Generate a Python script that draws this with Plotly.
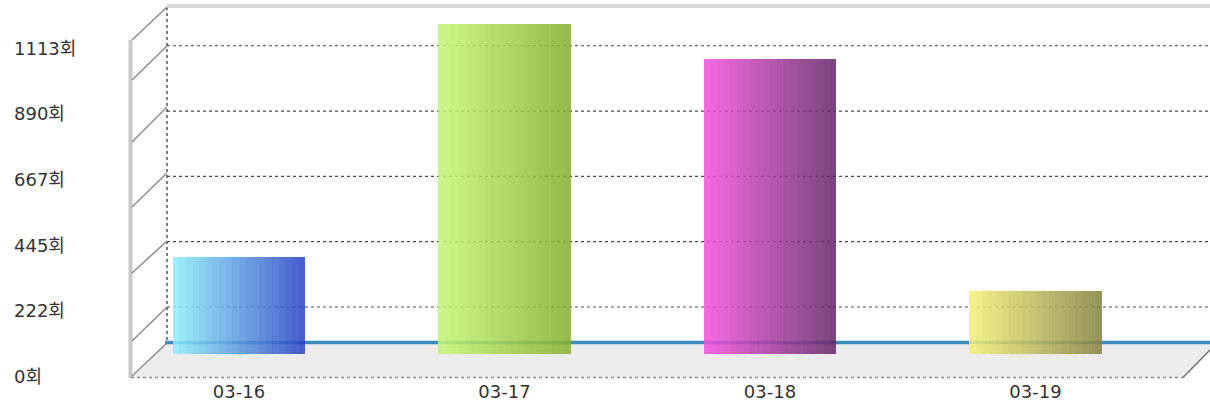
import plotly.graph_objects as go

# ---- data ----
categories = ["03-16", "03-17", "03-18", "03-19"]
visits = [392, 1187, 1067, 278]
tick_values = [0, 222.6, 445.2, 667.8, 890.4, 1113]
tick_labels = ["0회", "222회", "445회", "667회", "890회", "1113회"]
left_colors = ["#8cecf8", "#c3f573", "#f050dd", "#f2ee78"]
right_colors = ["#2a45c5", "#86b02e", "#672868", "#878340"]

W, H = 1210, 406
FONT = "DejaVu Sans, Noto Sans CJK KR, sans-serif"


def px(x):
    return x / W


def py(y):
    return 1 - y / H


def hex2rgb(h):
    h = h.lstrip("#")
    return tuple(int(h[i:i + 2], 16) for i in (0, 2, 4))


def mix(c1, c2, t):
    a, b = hex2rgb(c1), hex2rgb(c2)
    return "rgb(%d,%d,%d)" % tuple(round(a[i] + (b[i] - a[i]) * t) for i in range(3))


fig = go.Figure()

# bars drawn as vertical slices to get a horizontal gradient
N = 20
bar_w = 0.5
sw = bar_w / N
for k in range(N):
    t = k / (N - 1)
    fig.add_trace(go.Bar(
        x=categories, y=visits,
        width=sw, offset=-bar_w / 2 + k * sw,
        marker=dict(color=[mix(l, r, t) for l, r in zip(left_colors, right_colors)],
                    line=dict(width=0)),
        opacity=0.86, showlegend=False, hoverinfo="skip",
        xaxis="x", yaxis="y",
    ))

# invisible trace to carry the label axis
fig.add_trace(go.Scatter(x=[categories[0]], y=[0], mode="markers",
                         marker=dict(opacity=0), xaxis="x", yaxis="y2",
                         showlegend=False, hoverinfo="skip"))

shapes = []
# floor
floor = [(133, 377), (167, 343), (1210, 343), (1210, 350), (1183, 377)]
shapes.append(dict(type="path", xref="paper", yref="paper", layer="below",
                   path="M " + " L ".join(f"{px(a)},{py(b)}" for a, b in floor) + " Z",
                   fillcolor="#ececec", line=dict(width=0)))
# gridlines on back wall
for v in tick_values[1:]:
    shapes.append(dict(type="line", xref="paper", yref="y", layer="below",
                       x0=px(167), x1=px(1210), y0=v, y1=v,
                       line=dict(color="#4a4a4a", width=1.2, dash="3px,3px")))
# blue base line
shapes.append(dict(type="line", xref="paper", yref="paper", layer="below",
                   x0=px(165), x1=px(1210), y0=py(342.5), y1=py(342.5),
                   line=dict(color="#3a8cbf", width=3.5)))
# back wall left dotted edge
shapes.append(dict(type="line", xref="paper", yref="paper", layer="below",
                   x0=px(167), x1=px(167), y0=py(7), y1=py(343),
                   line=dict(color="#555555", width=1.5, dash="dot")))
# back wall top
shapes.append(dict(type="line", xref="paper", yref="paper", layer="below",
                   x0=px(167), x1=px(1210), y0=py(6), y1=py(6),
                   line=dict(color="#d8d8d8", width=4)))
# front strip of the floor (in front of the bars)
strip = [(133, 377), (156, 354), (1206, 354), (1183, 377)]
shapes.append(dict(type="path", xref="paper", yref="paper", layer="above",
                   path="M " + " L ".join(f"{px(a)},{py(b)}" for a, b in strip) + " Z",
                   fillcolor="#ececec", line=dict(width=0)))
# front left vertical
shapes.append(dict(type="line", xref="paper", yref="paper", layer="above",
                   x0=px(130.5), x1=px(130.5), y0=py(40), y1=py(378),
                   line=dict(color="#c8c8c8", width=4)))
# side diagonals
backs = [7, 46, 107, 173, 241, 307, 343]
fronts = [40, 80, 142, 207, 273, 341, 376]
for b, f in zip(backs, fronts):
    shapes.append(dict(type="line", xref="paper", yref="paper", layer="above",
                       x0=px(132), y0=py(f), x1=px(167), y1=py(b),
                       line=dict(color="#8c8c8c", width=1.5)))
# front bottom dotted edge
shapes.append(dict(type="line", xref="paper", yref="paper", layer="above",
                   x0=px(131), x1=px(1183), y0=py(377.5), y1=py(377.5),
                   line=dict(color="#8a8a8a", width=1.5, dash="dot")))
# right floor edge
shapes.append(dict(type="line", xref="paper", yref="paper", layer="above",
                   x0=px(1183), y0=py(377.5), x1=px(1210), y1=py(350),
                   line=dict(color="#707070", width=1.5)))

# axes ranges chosen so that value 0 sits on the floor
k_bar = 0.2934
zero_bar = 372.3
k_lab = 0.2947
zero_lab = 376.5

fig.update_layout(
    width=W, height=H,
    margin=dict(l=0, r=0, t=0, b=0),
    paper_bgcolor="white", plot_bgcolor="white",
    barmode="overlay", bargap=0,
    shapes=shapes,
    showlegend=False,
    font=dict(family=FONT, size=17, color="#333333"),
    xaxis=dict(type="category", range=[-239 / 265.5, (W - 239) / 265.5],
               anchor="free", position=py(379),
               showgrid=False, zeroline=False, showline=False, ticks="",
               tickfont=dict(family=FONT, size=18, color="#333333")),
    yaxis=dict(range=[(zero_bar - H) / k_bar, zero_bar / k_bar],
               showgrid=False, zeroline=False, showline=False,
               showticklabels=False, ticks=""),
    yaxis2=dict(range=[(zero_lab - H) / k_lab, zero_lab / k_lab],
                overlaying="y", anchor="free", position=0, side="left",
                tickvals=tick_values, ticktext=tick_labels,
                ticklabelposition="inside", ticklabelstandoff=10,
                showgrid=False, zeroline=False, showline=False, ticks="",
                tickfont=dict(family=FONT, size=18, color="#333333")),
)

fig.write_html("out.html",
               config={"displayModeBar": False},
               post_script="document.body.style.margin='0';"
                           "document.body.style.overflow='hidden';")
